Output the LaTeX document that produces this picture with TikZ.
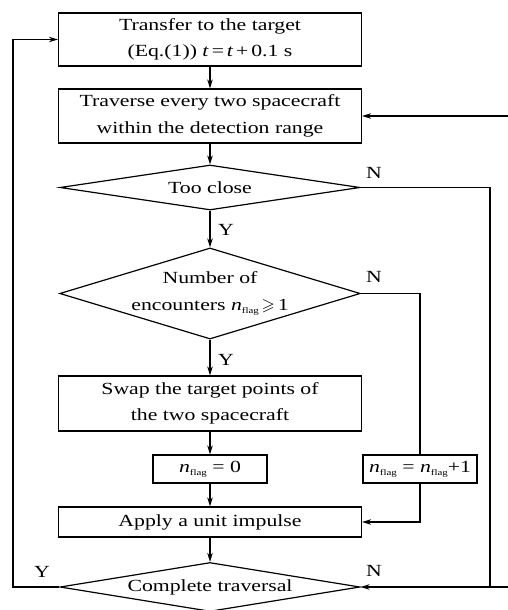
\documentclass[tikz,border=0pt]{standalone}
\usepackage{amsmath,amssymb}
\usepackage{fontspec}
\setmainfont{Liberation Serif}[FakeStretch=1.28]
\usepackage{tikz}
\usetikzlibrary{arrows.meta,shapes.geometric}
\tikzstyle{block}=[rectangle,draw,line width=1.2pt,minimum width=303pt,align=center,inner sep=0pt]
\tikzstyle{small block}=[block,minimum width=114pt,minimum height=28pt]
\tikzstyle{decision}=[diamond,draw,line width=1.2pt,align=center,inner sep=0pt,minimum width=300pt]
\tikzstyle{flow}=[draw,line width=1.2pt,-{Stealth[length=9pt,width=5.5pt]}]
\tikzstyle{line}=[draw,line width=1.2pt,-]
\tikzstyle{tag}=[inner sep=0pt]
\newcommand{\nflag}{\textit{n}\raisebox{-0.4ex}{\fontsize{8.5}{8.5}\selectfont flag}}

\begin{document}
\begin{tikzpicture}[x=1pt,y=-1pt,font=\fontsize{17}{26.5}\selectfont]
      \useasboundingbox (0,0) rectangle (508,610);
      \node[block,minimum height=53pt] (trans) at (210,39.5) {Transfer to the target\\(Eq.(1)) \textit{t}\,=\,\textit{t}\,+\,0.1 s};
      \node[block,minimum height=54pt] (trav) at (210,116) {Traverse every two spacecraft\\within the detection range};
      \node[decision,minimum height=45pt,aspect=6.5] (close) at (210,187.5) {Too close};
      \node[decision,minimum height=90pt,aspect=3.3] (count) at (210,293.5) {Number of\\encounters \nflag\,$\geqslant$\,1};
      \node[block,minimum height=55pt] (swap) at (210,403.5) {Swap the target points of\\the two spacecraft};
      \node[small block] (zero) at (210,469) {\nflag\ = 0};
      \node[small block] (incr) at (420,469) {\nflag\ = \nflag+1};
      \node[block,minimum height=30pt] (apply) at (210,522) {Apply a unit impulse};
      \node[decision,minimum height=49pt,aspect=6] (done) at (210,587) {Complete traversal};

      \foreach \from/\to in {trans/trav,trav/close,close/count,count/swap,swap/zero,zero/apply,apply/done}{
        \path[flow] (\from.south) -- (\to.north);
      }

      \coordinate (rail) at (490,587);
      \coordinate (left) at (13,587);
      \coordinate (edge1) at (510,116);
      \coordinate (edge2) at (510,587);
      \path[flow] (edge1) -- (trav.east);
      \path[flow] (edge2) -- (done.east);
      \path[line] (close.east) -| (rail);
      \path[line] (count.east) -| (incr.north);
      \path[flow] (incr.south) |- (apply.east);
      \path[flow] (done.west) -- (left) |- (trans.west);

      \node[tag] (y1) at (226,230) {Y};
      \node[tag] (y2) at (226,360) {Y};
      \node[tag] (y3) at (42,572) {Y};
      \node[tag] (n1) at (374,173) {N};
      \node[tag] (n2) at (374,277) {N};
      \node[tag] (n3) at (374,571) {N};
\end{tikzpicture}
\end{document}
